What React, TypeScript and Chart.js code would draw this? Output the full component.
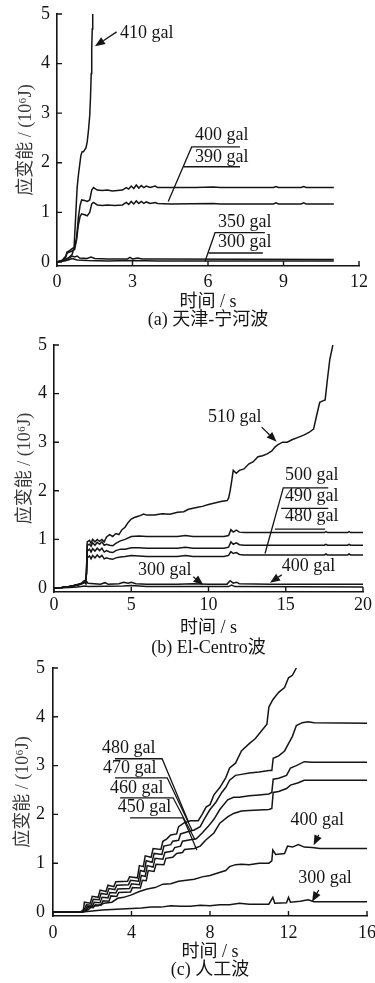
import React, { useEffect, useRef } from 'react';
import { Chart, registerables } from 'chart.js';

Chart.register(...registerables);

type P = [number, number];

// ---------- (a) 天津-宁河波 ----------
const A_410: P[] = [[0,0],[0.15,0.02],[0.3,0.05],[0.45,0.08],[0.6,0.15],[0.68,0.3],[0.72,0.7],[0.76,1.1],[0.8,1.5],[0.85,1.75],[0.9,1.95],[0.95,2.15],[1.0,2.22],[1.05,2.22],[1.1,2.26],[1.15,2.3],[1.2,2.42],[1.25,2.65],[1.3,2.95],[1.33,3.3],[1.36,3.8],[1.38,4.3],[1.4,4.7],[1.42,5.0]];
const A_400: P[] = [[0,0],[0.2,0.03],[0.35,0.12],[0.4,0.2],[0.5,0.23],[0.6,0.27],[0.7,0.3],[0.78,0.5],[0.85,0.9],[0.92,1.15],[0.98,1.25],[1.1,1.24],[1.2,1.22],[1.3,1.25],[1.38,1.45],[1.45,1.5],[1.6,1.45],[1.8,1.44],[2.0,1.45],[2.2,1.43],[2.4,1.44],[2.6,1.45],[2.75,1.5],[2.85,1.47],[2.95,1.53],[3.05,1.48],[3.15,1.55],[3.25,1.49],[3.35,1.54],[3.45,1.5],[3.55,1.53],[3.7,1.5],[3.9,1.53],[4.0,1.5],[4.3,1.5],[5.5,1.5],[6.2,1.51],[6.5,1.5],[8.6,1.5],[8.7,1.52],[8.8,1.5],[9.7,1.5],[9.8,1.52],[9.9,1.5],[11,1.5]];
const A_390: P[] = [[0,0],[0.2,0.03],[0.35,0.1],[0.4,0.18],[0.5,0.2],[0.6,0.22],[0.7,0.25],[0.78,0.45],[0.85,0.75],[0.92,0.92],[0.98,0.97],[1.1,0.95],[1.2,0.93],[1.3,1.0],[1.38,1.17],[1.45,1.2],[1.6,1.15],[1.8,1.14],[2.0,1.15],[2.3,1.14],[2.6,1.15],[2.75,1.2],[2.85,1.16],[2.95,1.22],[3.05,1.17],[3.15,1.23],[3.25,1.18],[3.35,1.22],[3.45,1.18],[3.55,1.21],[3.7,1.18],[3.9,1.2],[4.0,1.18],[4.5,1.17],[6.2,1.18],[6.5,1.17],[8.6,1.17],[8.7,1.19],[8.8,1.17],[9.7,1.17],[9.8,1.19],[9.9,1.17],[11,1.17]];
const A_350: P[] = [[0,0],[0.3,0.04],[0.5,0.08],[0.6,0.12],[0.7,0.1],[0.8,0.12],[0.9,0.08],[1.2,0.07],[1.35,0.1],[1.5,0.07],[2,0.06],[2.8,0.06],[2.9,0.09],[3.0,0.06],[3.2,0.08],[3.4,0.06],[4,0.06],[11,0.05]];
const A_300: P[] = [[0,0],[0.3,0.02],[0.5,0.05],[0.6,0.07],[0.8,0.04],[1.2,0.03],[2,0.02],[3,0.03],[4,0.02],[11,0.02]];
const A_X_TICKS = [0, 3, 6, 9, 12];

// ---------- (b) El-Centro波 ----------
const B_510: P[] = [[0,0],[0.5,0.01],[1.0,0.03],[1.3,0.05],[1.6,0.08],[1.8,0.1],[1.95,0.15],[2.05,0.1],[2.1,0.3],[2.15,0.95],[2.3,0.98],[2.4,0.92],[2.5,1.0],[2.65,0.95],[2.8,1.0],[2.95,0.96],[3.1,1.0],[3.25,0.95],[3.4,1.05],[3.6,1.1],[3.8,1.06],[4.0,1.12],[4.2,1.1],[4.4,1.2],[4.6,1.25],[4.8,1.35],[5.0,1.42],[5.2,1.45],[5.5,1.48],[5.8,1.52],[6.0,1.5],[6.5,1.5],[7.0,1.53],[7.5,1.52],[8.0,1.56],[8.4,1.57],[8.7,1.62],[9.0,1.64],[9.3,1.66],[9.6,1.68],[10.0,1.72],[10.4,1.75],[10.8,1.78],[11.2,1.8],[11.3,1.85],[11.4,2.0],[11.5,2.2],[11.6,2.42],[11.8,2.36],[12.0,2.42],[12.3,2.45],[12.6,2.55],[12.9,2.6],[13.2,2.7],[13.5,2.72],[13.8,2.76],[14.1,2.82],[14.3,2.9],[14.5,2.95],[14.8,3.0],[15.1,3.0],[15.4,3.05],[15.8,3.1],[16.2,3.15],[16.5,3.2],[16.8,3.27],[17.0,3.55],[17.2,3.82],[17.4,3.85],[17.55,3.87],[17.7,4.3],[17.85,4.7],[18.05,5.0]];
const B_500: P[] = [[0,0],[0.5,0.01],[1.0,0.03],[1.3,0.05],[1.6,0.08],[1.8,0.1],[1.95,0.14],[2.05,0.1],[2.1,0.3],[2.15,0.88],[2.3,0.9],[2.4,0.86],[2.5,0.93],[2.65,0.88],[2.8,0.94],[2.95,0.9],[3.1,0.95],[3.25,0.88],[3.4,0.9],[3.6,0.88],[3.8,0.87],[4.0,0.92],[4.3,0.97],[4.6,1.0],[5.0,1.06],[5.5,1.07],[6,1.06],[7,1.06],[8,1.06],[8.5,1.08],[9,1.06],[10,1.06],[11,1.06],[11.3,1.08],[11.45,1.2],[11.6,1.15],[11.8,1.19],[12.0,1.15],[12.3,1.14],[13,1.14],[17.5,1.14],[17.6,1.16],[17.7,1.14],[19,1.14],[19.1,1.16],[19.2,1.14],[20,1.14]];
const B_490: P[] = [[0,0],[0.5,0.01],[1.0,0.03],[1.3,0.05],[1.6,0.07],[1.8,0.09],[1.95,0.12],[2.05,0.1],[2.1,0.3],[2.15,0.76],[2.3,0.8],[2.4,0.74],[2.5,0.81],[2.65,0.76],[2.8,0.82],[2.95,0.77],[3.1,0.82],[3.25,0.74],[3.4,0.77],[3.6,0.74],[3.8,0.73],[4.0,0.77],[4.3,0.8],[4.6,0.8],[5.0,0.83],[5.5,0.83],[6,0.82],[7,0.82],[8,0.82],[8.5,0.84],[9,0.82],[10,0.82],[11,0.82],[11.3,0.84],[11.45,0.95],[11.6,0.9],[11.8,0.93],[12.0,0.89],[12.3,0.88],[13,0.88],[17.5,0.88],[17.6,0.9],[17.7,0.88],[19,0.88],[19.1,0.9],[19.2,0.88],[20,0.88]];
const B_480: P[] = [[0,0],[0.5,0.01],[1.0,0.03],[1.3,0.05],[1.6,0.07],[1.8,0.09],[1.95,0.12],[2.05,0.1],[2.1,0.3],[2.15,0.62],[2.3,0.66],[2.4,0.6],[2.5,0.67],[2.65,0.62],[2.8,0.68],[2.95,0.63],[3.1,0.67],[3.25,0.6],[3.4,0.62],[3.6,0.6],[3.8,0.59],[4.0,0.62],[4.3,0.64],[4.6,0.65],[5.0,0.67],[5.5,0.66],[6,0.65],[7,0.65],[8,0.65],[8.5,0.67],[9,0.65],[10,0.65],[11,0.65],[11.3,0.67],[11.45,0.75],[11.6,0.71],[11.8,0.73],[12.0,0.69],[12.3,0.68],[13,0.68],[17.5,0.68],[17.6,0.7],[17.7,0.68],[19,0.68],[19.1,0.7],[19.2,0.68],[20,0.68]];
const B_400: P[] = [[0,0],[0.5,0.01],[1.0,0.03],[1.5,0.05],[1.9,0.1],[2.05,0.16],[2.2,0.1],[2.6,0.09],[3.0,0.08],[3.3,0.11],[3.5,0.08],[4.2,0.09],[4.5,0.12],[4.8,0.1],[5.0,0.12],[5.3,0.09],[6,0.08],[8,0.08],[9,0.09],[10,0.08],[11.2,0.08],[11.4,0.15],[11.6,0.1],[11.8,0.12],[12,0.09],[14,0.08],[20,0.08]];
const B_300: P[] = [[0,0],[1.0,0.01],[1.5,0.02],[2.0,0.04],[2.2,0.03],[4.5,0.04],[5,0.05],[6,0.03],[11.3,0.03],[11.5,0.06],[11.7,0.03],[20,0.02]];
const B_X_TICKS = [0, 5, 10, 15, 20];

// ---------- (c) 人工波 ----------
const C_480: P[] = [[0,0],[1.4,0],[1.55,0.05],[1.6,0.2],[1.9,0.18],[2.0,0.32],[2.3,0.3],[2.4,0.45],[2.7,0.42],[2.8,0.55],[3.1,0.52],[3.2,0.62],[3.8,0.63],[3.9,0.72],[4.3,0.7],[4.4,0.95],[4.6,0.93],[4.7,1.15],[5.0,1.12],[5.1,1.3],[5.5,1.28],[5.6,1.45],[5.8,1.5],[6.0,1.58],[6.3,1.6],[6.4,1.75],[6.7,1.83],[7.0,1.87],[7.4,1.87],[7.6,2.0],[7.8,2.15],[8.0,2.2],[8.2,2.4],[8.5,2.55],[8.8,2.75],[9.0,2.95],[9.3,3.05],[9.6,3.3],[10.0,3.45],[10.3,3.55],[10.6,3.7],[10.9,3.85],[11.0,4.2],[11.2,4.35],[11.5,4.5],[11.8,4.6],[12.0,4.8],[12.2,4.85],[12.4,5.0]];
const C_470: P[] = [[0,0],[1.5,0],[1.6,0.05],[1.7,0.15],[1.95,0.14],[2.05,0.26],[2.35,0.25],[2.45,0.38],[2.75,0.36],[2.85,0.48],[3.15,0.46],[3.25,0.55],[3.85,0.56],[3.95,0.65],[4.35,0.63],[4.45,0.85],[4.65,0.83],[4.75,1.05],[5.05,1.02],[5.15,1.2],[5.55,1.18],[5.65,1.35],[6.0,1.38],[6.1,1.45],[6.4,1.47],[6.5,1.6],[6.9,1.65],[7.2,1.68],[7.5,1.75],[7.7,1.9],[8.0,2.1],[8.3,2.25],[8.6,2.45],[8.8,2.55],[9.0,2.7],[9.3,2.8],[9.6,2.82],[10.0,2.85],[10.5,2.87],[11.0,2.9],[11.15,2.9],[11.22,3.15],[11.5,3.2],[11.8,3.3],[12.0,3.45],[12.2,3.6],[12.4,3.82],[12.7,3.88],[13.0,3.9],[13.3,3.88],[16,3.87]];
const C_460: P[] = [[0,0],[1.5,0],[1.65,0.04],[1.75,0.12],[2.0,0.11],[2.1,0.2],[2.4,0.19],[2.5,0.3],[2.8,0.29],[2.9,0.4],[3.2,0.39],[3.3,0.47],[3.9,0.48],[4.0,0.58],[4.4,0.56],[4.5,0.75],[4.7,0.73],[4.8,0.95],[5.1,0.92],[5.2,1.1],[5.6,1.08],[5.7,1.22],[6.1,1.25],[6.2,1.32],[6.5,1.35],[6.6,1.45],[7.0,1.48],[7.3,1.5],[7.6,1.62],[7.9,1.75],[8.2,1.9],[8.5,2.1],[8.9,2.3],[9.2,2.35],[9.5,2.35],[10.0,2.38],[10.5,2.4],[11.0,2.42],[11.15,2.45],[11.22,2.72],[11.5,2.74],[11.9,2.8],[12.1,2.95],[12.4,3.0],[12.8,3.08],[13.2,3.07],[16,3.07]];
const C_450: P[] = [[0,0],[1.5,0],[1.7,0.03],[1.8,0.1],[2.05,0.09],[2.15,0.15],[2.45,0.14],[2.55,0.23],[2.85,0.22],[2.95,0.33],[3.25,0.32],[3.35,0.4],[3.95,0.41],[4.05,0.5],[4.45,0.49],[4.55,0.65],[4.75,0.64],[4.85,0.85],[5.15,0.83],[5.25,0.98],[5.65,0.97],[5.75,1.1],[6.1,1.12],[6.3,1.2],[6.6,1.22],[6.7,1.28],[7.2,1.3],[7.5,1.35],[7.8,1.48],[8.2,1.62],[8.5,1.82],[8.9,1.95],[9.2,2.02],[9.6,2.07],[10.0,2.08],[10.5,2.09],[11.0,2.1],[11.15,2.12],[11.22,2.45],[11.5,2.47],[11.9,2.53],[12.1,2.6],[12.5,2.65],[12.8,2.7],[13.2,2.7],[16,2.7]];
const C_400: P[] = [[0,0],[1.5,0],[1.8,0.05],[2.0,0.12],[2.3,0.13],[2.6,0.18],[3.0,0.2],[3.3,0.28],[3.6,0.3],[4.0,0.35],[4.4,0.42],[4.8,0.47],[5.2,0.5],[5.6,0.57],[6.0,0.58],[6.4,0.63],[6.8,0.65],[7.2,0.67],[7.6,0.72],[8.0,0.75],[8.4,0.8],[8.8,0.85],[9.0,0.93],[9.3,0.97],[9.6,0.98],[10.0,0.97],[10.5,1.0],[11.0,1.0],[11.15,1.05],[11.2,1.27],[11.35,1.18],[11.8,1.2],[11.95,1.35],[12.2,1.33],[12.5,1.38],[12.8,1.33],[13.2,1.32],[13.6,1.3],[16,1.3]];
const C_300: P[] = [[0,0],[1.5,0],[2.0,0.02],[2.5,0.04],[3.0,0.05],[3.5,0.06],[4.0,0.07],[4.5,0.08],[5.0,0.1],[5.5,0.1],[6.0,0.13],[6.5,0.12],[7.0,0.12],[7.5,0.14],[8.0,0.13],[8.5,0.15],[9.0,0.15],[9.5,0.18],[10.0,0.16],[10.5,0.16],[11.0,0.16],[11.2,0.3],[11.3,0.18],[11.9,0.19],[12.0,0.3],[12.1,0.2],[12.6,0.22],[13.0,0.25],[13.3,0.21],[16,0.21]];
const C_X_TICKS = [0, 4, 8, 12, 16];

const Y_TICKS = [0, 1, 2, 3, 4, 5];
const Y_TITLE = '应变能 / (10⁶J)';
const X_TITLE = '时间 / s';

type Note = { text: string; at: P; leader?: P[]; arrow?: [P, P] };

const A_NOTES: Note[] = [
  { text: '410 gal', at: [2.5, 4.62], arrow: [[2.37, 4.64], [1.51, 4.35]] },
  { text: '400 gal', at: [5.48, 2.56], leader: [[7.27, 2.32], [5.35, 2.32], [4.42, 1.22]] },
  { text: '390 gal', at: [5.48, 2.12], leader: [[7.27, 1.92], [5.03, 1.92]] },
  { text: '350 gal', at: [6.4, 0.81], leader: [[8.26, 0.59], [6.28, 0.59], [5.88, 0.01]] },
  { text: '300 gal', at: [6.4, 0.4], leader: [[8.18, 0.18], [6.02, 0.18]] },
];
const B_NOTES: Note[] = [
  { text: '510 gal', at: [9.97, 3.52], arrow: [[13.44, 3.31], [14.41, 3.01]] },
  { text: '500 gal', at: [14.95, 2.33], leader: [[17.75, 2.06], [14.84, 2.06], [13.66, 0.71]] },
  { text: '490 gal', at: [14.95, 1.88], leader: [[17.75, 1.64], [14.7, 1.64]] },
  { text: '480 gal', at: [14.95, 1.47], leader: [[17.54, 1.21], [14.3, 1.21]] },
  { text: '400 gal', at: [14.74, 0.44], arrow: [[14.74, 0.27], [13.98, 0.11]] },
  { text: '300 gal', at: [5.44, 0.37], arrow: [[9.02, 0.23], [9.66, 0.06]] },
];
const C_NOTES: Note[] = [
  { text: '480 gal', at: [2.5, 3.36], leader: [[3.16, 3.14], [5.56, 3.14], [6.9, 1.85]] },
  { text: '470 gal', at: [2.55, 2.95], leader: [[3.16, 2.75], [5.82, 2.75], [7.08, 1.68]] },
  { text: '460 gal', at: [2.9, 2.54], leader: [[3.42, 2.34], [6.12, 2.34], [7.24, 1.48]] },
  { text: '450 gal', at: [3.3, 2.15], leader: [[3.93, 1.93], [6.63, 1.93], [7.33, 1.27]] },
  { text: '400 gal', at: [12.1, 1.87], arrow: [[13.54, 1.58], [13.28, 1.37]] },
  { text: '300 gal', at: [12.5, 0.69], arrow: [[13.54, 0.45], [13.2, 0.21]] },
];

const INK = '#151515';
const FONT = '"Liberation Serif", "Times New Roman", "Noto Sans CJK SC", serif';

type Panel = {
  top: number; height: number;
  series: P[][]; xMax: number; xTicks: number[]; notes: Note[];
  caption: string;
  padTop: number; padRight: number; yAxisW: number; xAxisH: number;
  xTickPad: number; yTickPad: number; capLH: number; capPadBottom: number; yTitlePad: number;
};

const PANELS: Panel[] = [
  { top: 0, height: 332, series: [A_410, A_400, A_390, A_350, A_300], xMax: 12, xTicks: A_X_TICKS, notes: A_NOTES,
    caption: '(a) 天津-宁河波', padTop: 14, padRight: 16, yAxisW: 57, xAxisH: 66, xTickPad: 7, yTickPad: 7, capLH: 1.0, capPadBottom: 3, yTitlePad: 17 },
  { top: 332, height: 328, series: [B_510, B_500, B_490, B_480, B_400, B_300], xMax: 20, xTicks: B_X_TICKS, notes: B_NOTES,
    caption: '(b) El-Centro波', padTop: 13, padRight: 12, yAxisW: 54, xAxisH: 68, xTickPad: 4, yTickPad: 7, capLH: 1.1, capPadBottom: 2, yTitlePad: 16 },
  { top: 660, height: 323, series: [C_480, C_470, C_460, C_450, C_400, C_300], xMax: 16, xTicks: C_X_TICKS, notes: C_NOTES,
    caption: '(c) 人工波', padTop: 8, padRight: 8, yAxisW: 53, xAxisH: 67, xTickPad: 8, yTickPad: 8, capLH: 1.0, capPadBottom: 4, yTitlePad: 14 },
];

function makeDecor(p: Panel) {
  return {
    id: 'decor',
    afterDraw(chart: any) {
      const { ctx, chartArea } = chart;
      const xs = chart.scales.x;
      const ys = chart.scales.y;
      const px = (pt: P): [number, number] => [xs.getPixelForValue(pt[0]), ys.getPixelForValue(pt[1])];
      ctx.save();
      ctx.strokeStyle = INK;
      ctx.fillStyle = INK;
      ctx.lineWidth = 1.4;
      // inward tick marks
      ctx.beginPath();
      for (const v of p.xTicks) {
        const x = xs.getPixelForValue(v);
        ctx.moveTo(x, chartArea.bottom);
        ctx.lineTo(x, chartArea.bottom - 5);
      }
      for (const v of Y_TICKS) {
        const y = ys.getPixelForValue(v);
        ctx.moveTo(chartArea.left, y);
        ctx.lineTo(chartArea.left + 5, y);
      }
      ctx.stroke();
      // annotations
      ctx.font = `18px ${FONT}`;
      ctx.textAlign = 'left';
      ctx.textBaseline = 'middle';
      ctx.lineWidth = 1.3;
      for (const n of p.notes) {
        const [tx, ty] = px(n.at);
        ctx.fillText(n.text, tx, ty);
        if (n.leader) {
          ctx.beginPath();
          n.leader.forEach((pt, i) => {
            const [x, y] = px(pt);
            if (i === 0) ctx.moveTo(x, y); else ctx.lineTo(x, y);
          });
          ctx.stroke();
        }
        if (n.arrow) {
          const [x0, y0] = px(n.arrow[0]);
          const [x1, y1] = px(n.arrow[1]);
          const ang = Math.atan2(y1 - y0, x1 - x0);
          const L = 10, W = 4;
          const bx = x1 - L * Math.cos(ang), by = y1 - L * Math.sin(ang);
          ctx.beginPath();
          ctx.moveTo(x0, y0);
          ctx.lineTo(bx, by);
          ctx.stroke();
          ctx.beginPath();
          ctx.moveTo(x1, y1);
          ctx.lineTo(bx + W * Math.sin(ang), by - W * Math.cos(ang));
          ctx.lineTo(bx - W * Math.sin(ang), by + W * Math.cos(ang));
          ctx.closePath();
          ctx.fill();
        }
      }
      ctx.restore();
    },
  };
}

function buildConfig(p: Panel): any {
  const tickFont = { family: FONT, size: 18, lineHeight: 1.0 };
  return {
    type: 'line',
    data: {
      datasets: p.series.map((s) => ({
        data: s.map(([x, y]) => ({ x, y })),
        borderColor: INK,
        borderWidth: 1.5,
        pointRadius: 0,
        fill: false,
        tension: 0,
      })),
    },
    options: {
      responsive: false,
      animation: false,
      events: [],
      layout: { padding: { top: p.padTop, right: p.padRight, left: 0, bottom: 0 } },
      plugins: { legend: { display: false }, tooltip: { enabled: false }, title: { display: false } },
      scales: {
        x: {
          type: 'linear',
          min: 0,
          max: p.xMax,
          afterBuildTicks: (s: any) => { s.ticks = p.xTicks.map((v) => ({ value: v })); },
          afterFit: (s: any) => { s.height = p.xAxisH; s.paddingLeft = 0; s.paddingRight = 0; },
          grid: { display: true, drawOnChartArea: false, drawTicks: false },
          border: { display: true, color: INK, width: 1.6 },
          ticks: { font: tickFont, color: INK, padding: p.xTickPad, maxRotation: 0, autoSkip: false },
          title: {
            display: true,
            text: [X_TITLE, p.caption],
            color: INK,
            font: { family: FONT, size: 18, lineHeight: p.capLH },
            padding: { top: 0, bottom: p.capPadBottom },
          },
        },
        y: {
          type: 'linear',
          min: -0.082,
          max: 5,
          afterBuildTicks: (s: any) => { s.ticks = Y_TICKS.map((v) => ({ value: v })); },
          afterFit: (s: any) => { s.width = p.yAxisW; s.paddingTop = 0; s.paddingBottom = 0; },
          grid: { display: true, drawOnChartArea: false, drawTicks: false },
          border: { display: true, color: INK, width: 1.6 },
          ticks: { font: tickFont, color: INK, padding: p.yTickPad, autoSkip: false },
          title: {
            display: true,
            text: Y_TITLE,
            color: '#3a3a3a',
            font: { family: FONT, size: 18, lineHeight: 1.0 },
            padding: { top: p.yTitlePad, bottom: 0 },
          },
        },
      },
    },
    plugins: [makeDecor(p)],
  };
}

function ChartPanel({ panel }: { panel: Panel }) {
  const ref = useRef<HTMLCanvasElement>(null);
  useEffect(() => {
    const chart = new Chart(ref.current as HTMLCanvasElement, buildConfig(panel));
    return () => chart.destroy();
  }, [panel]);
  return (
    <canvas
      ref={ref}
      width={375}
      height={panel.height}
      style={{ position: 'absolute', left: 0, top: panel.top, width: 375, height: panel.height, display: 'block' }}
    />
  );
}

export default function App() {
  return (
    <div style={{ position: 'absolute', left: 0, top: 0, width: 375, height: 983, background: '#fff', overflow: 'hidden' }}>
      {PANELS.map((p, i) => (
        <ChartPanel key={i} panel={p} />
      ))}
    </div>
  );
}
